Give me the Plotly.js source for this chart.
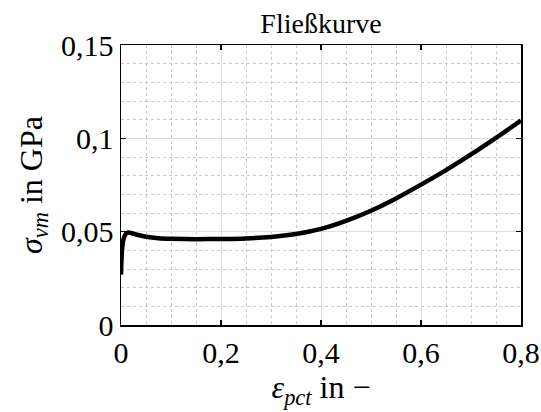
<!DOCTYPE html>
<html><head><meta charset="utf-8">
<script src="https://cdn.plot.ly/plotly-3.0.1.min.js"></script>
<style>html,body{margin:0;padding:0;background:#fff}</style>
</head><body>
<div id="chart" style="width:541px;height:412px"></div>
<script>
const strain = [0, 0.002, 0.005, 0.01, 0.015, 0.02, 0.03, 0.05, 0.075, 0.1, 0.15, 0.2, 0.25, 0.3, 0.35, 0.4, 0.45, 0.5, 0.55, 0.6, 0.65, 0.7, 0.75, 0.8];
const stress = [0.027, 0.040, 0.046, 0.049, 0.0495, 0.0493, 0.0485, 0.0473, 0.0465, 0.0462, 0.046, 0.0461, 0.0464, 0.0472, 0.0488, 0.0515, 0.0558, 0.0612, 0.0678, 0.0752, 0.083, 0.0914, 0.1003, 0.1095];
const titleText = 'Fließkurve';
const xTitle = '<i>ε</i><sub><i>pct</i></sub> in −';
const yTitle = '<i>σ</i><sub><i>vm</i></sub> in GPa';

const F = 'Liberation Serif';
const trace = {x: strain, y: stress, type: 'scatter', mode: 'lines',
  line: {color: '#000', width: 4.5, shape: 'spline', smoothing: 0.8}};
const axBase = {
  showline: true, linecolor: '#000', linewidth: 1.5, mirror: 'ticks',
  ticks: 'inside', ticklen: 5, tickwidth: 1.5, tickcolor: '#000',
  showgrid: true, gridcolor: '#dedede', gridwidth: 1, zeroline: false,
  tickfont: {family: F, size: 30, color: '#000'}
};
const layout = {
  width: 541, height: 412,
  margin: {l: 121, r: 20, t: 45, b: 87},
  paper_bgcolor: '#fff', plot_bgcolor: '#fff',
  separators: ',.',
  font: {family: F, color: '#000'},
  showlegend: false,
  title: {text: titleText, font: {family: F, size: 28, color: '#000'}, x: 0.5, xanchor: 'center', xref: 'paper', y: 1, yref: 'paper', yanchor: 'bottom', pad: {b: 12}},
  xaxis: Object.assign({}, axBase, {range: [0, 0.8], dtick: 0.2, tick0: 0,
    minor: {dtick: 0.05, showgrid: true, gridcolor: '#c8c8c8', griddash: 'dot', gridwidth: 1, ticks: ''},
    title: {text: xTitle, font: {family: F, size: 32, color: '#000'}, standoff: 8}}),
  yaxis: Object.assign({}, axBase, {range: [0, 0.15], dtick: 0.05, tick0: 0,
    minor: {dtick: 0.01, showgrid: true, gridcolor: '#c8c8c8', griddash: 'dot', gridwidth: 1, ticks: ''},
    title: {text: yTitle, font: {family: F, size: 32, color: '#000'}, standoff: 9}})
};
Plotly.newPlot('chart', [trace], layout, {staticPlot: true, displayModeBar: false});
</script>
</body></html>
